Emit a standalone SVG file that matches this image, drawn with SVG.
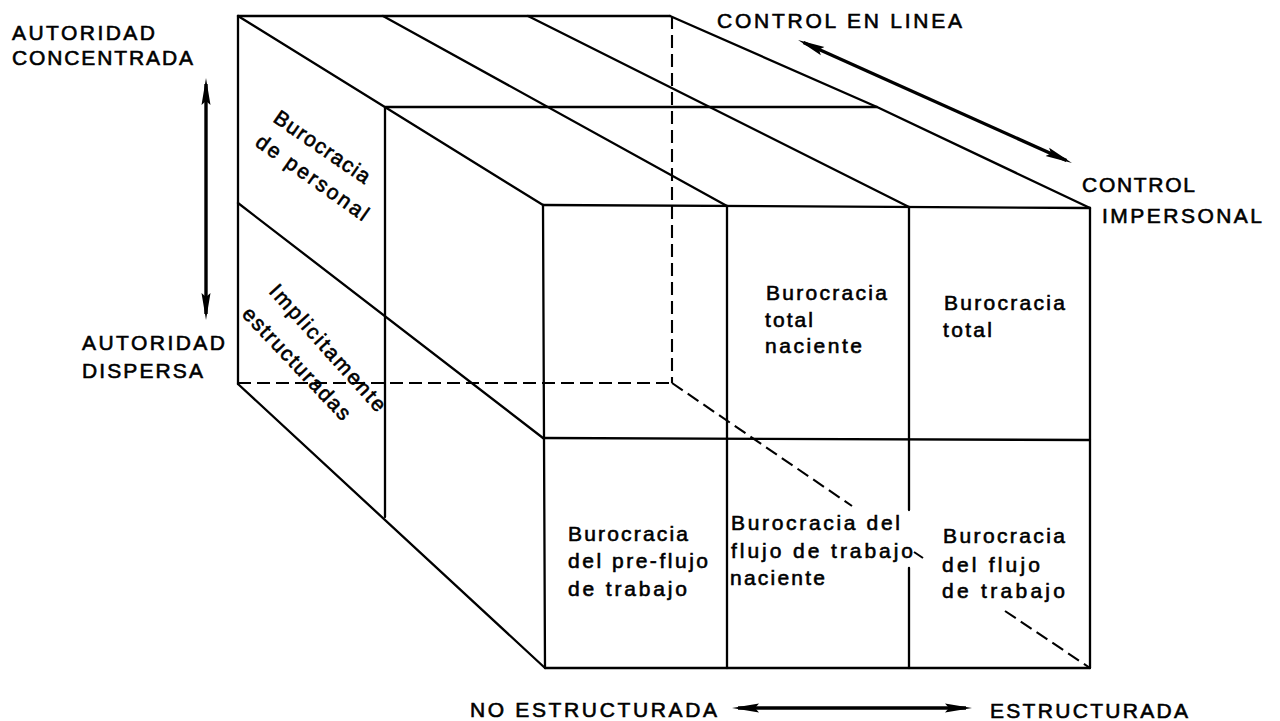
<svg xmlns="http://www.w3.org/2000/svg" width="1280" height="721" viewBox="0 0 1280 721">
<defs>
<style>
.e{fill:none;stroke:#000;stroke-width:2.3;stroke-linecap:round;stroke-linejoin:round}
.d{fill:none;stroke:#000;stroke-width:2.1;stroke-dasharray:13 6}
.a{fill:none;stroke:#000;stroke-width:3.4}
text{font-family:"Liberation Sans",Arial,sans-serif;font-size:21px;fill:#000;stroke:#000;stroke-width:0.6}
.t{font-size:21px}
</style>
<marker id="ah" markerUnits="userSpaceOnUse" markerWidth="30" markerHeight="12" refX="21" refY="5" orient="auto-start-reverse" viewBox="0 0 30 12">
<path d="M0,0.5 L27,5 L0,9.5 L4,5 Z" fill="#000"/>
</marker>
</defs>
<rect width="1280" height="721" fill="#fff"/>

<g id="connectors">
<g id="cube-edges">
<line class="e" x1="238" y1="16" x2="670" y2="16"/>
<line class="e" x1="238" y1="16" x2="238" y2="384"/>
<line class="e" x1="238" y1="16" x2="543" y2="205"/>
<line class="e" x1="383" y1="16" x2="727" y2="206"/>
<line class="e" x1="528" y1="16" x2="909" y2="207"/>
<polyline class="e" points="670,16 877,107 1090,208"/>
<line class="e" x1="386" y1="107" x2="877" y2="107"/>
<line class="e" x1="543" y1="205" x2="1090" y2="208"/>
<line class="e" x1="543" y1="205" x2="545" y2="668"/>
<line class="e" x1="1090" y1="208" x2="1090" y2="668"/>
<line class="e" x1="545" y1="668" x2="1090" y2="668"/>
<line class="e" x1="543" y1="438" x2="1090" y2="440"/>
<line class="e" x1="727" y1="206" x2="727" y2="668"/>
<line class="e" x1="909" y1="207" x2="909" y2="510"/>
<line class="e" x1="909" y1="568" x2="909" y2="668"/>
<line class="e" x1="238" y1="203" x2="543" y2="438"/>
<line class="e" x1="238" y1="384" x2="545" y2="668"/>
<line class="e" x1="385" y1="107" x2="385" y2="517"/>
</g>
<g id="hidden-edges">
<line class="d" x1="238" y1="383" x2="672" y2="383"/>
<line class="d" x1="672" y1="16" x2="672" y2="383"/>
<line class="d" x1="672" y1="383" x2="852" y2="506"/>
<line class="d" x1="914" y1="552" x2="923" y2="558" style="stroke-dasharray:none"/>
<line class="d" x1="1005" y1="611" x2="1090" y2="668"/>
</g>
<g id="axis-arrows">
<line class="a" x1="206" y1="84" x2="206" y2="314" marker-start="url(#ah)" marker-end="url(#ah)"/>
<line class="a" x1="803.5" y1="42.5" x2="1066.5" y2="160.5" marker-start="url(#ah)" marker-end="url(#ah)"/>
<line class="a" x1="738" y1="708" x2="966" y2="708" marker-start="url(#ah)" marker-end="url(#ah)"/>
</g>
</g>

<g id="label-autoridad-concentrada">
<text x="12" y="40" textLength="143" lengthAdjust="spacing">AUTORIDAD</text>
<text x="12" y="65" textLength="181" lengthAdjust="spacing">CONCENTRADA</text>
</g>
<g id="label-autoridad-dispersa">
<text x="82" y="350" textLength="143" lengthAdjust="spacing">AUTORIDAD</text>
<text x="82" y="378" textLength="121" lengthAdjust="spacing">DISPERSA</text>
</g>
<g id="label-control-en-linea">
<text x="717" y="28" textLength="245" lengthAdjust="spacing">CONTROL EN LINEA</text>
</g>
<g id="label-control-impersonal">
<text x="1082" y="192" textLength="113" lengthAdjust="spacing">CONTROL</text>
<text x="1102" y="223" textLength="160" lengthAdjust="spacing">IMPERSONAL</text>
</g>
<g id="label-no-estructurada">
<text x="470" y="717" textLength="247" lengthAdjust="spacing">NO ESTRUCTURADA</text>
</g>
<g id="label-estructurada">
<text x="990" y="718" textLength="198" lengthAdjust="spacing">ESTRUCTURADA</text>
</g>

<g id="node-burocracia-personal">
<text class="t" transform="translate(272,121) rotate(34.5)" textLength="112" lengthAdjust="spacing">Burocracia</text>
<text class="t" transform="translate(254,145) rotate(35.2)" textLength="133" lengthAdjust="spacing">de personal</text>
</g>
<g id="node-implicitamente-estructuradas">
<text class="t" transform="translate(268,292) rotate(48)" textLength="163" lengthAdjust="spacing">Implicitamente</text>
<text class="t" transform="translate(241,315) rotate(46.5)" textLength="147" lengthAdjust="spacing">estructuradas</text>
</g>
<g id="node-total-naciente">
<text x="766" y="300" textLength="121" lengthAdjust="spacing">Burocracia</text>
<text x="765" y="327" textLength="48" lengthAdjust="spacing">total</text>
<text x="765" y="353" textLength="97" lengthAdjust="spacing">naciente</text>
</g>
<g id="node-total">
<text x="944" y="310" textLength="121" lengthAdjust="spacing">Burocracia</text>
<text x="943" y="337" textLength="49" lengthAdjust="spacing">total</text>
</g>
<g id="node-pre-flujo">
<text x="568" y="541" textLength="120" lengthAdjust="spacing">Burocracia</text>
<text x="568" y="568" textLength="140" lengthAdjust="spacing">del pre-flujo</text>
<text x="568" y="596" textLength="119" lengthAdjust="spacing">de trabajo</text>
</g>
<g id="node-flujo-naciente">
<text x="731" y="530" textLength="169" lengthAdjust="spacing">Burocracia del</text>
<text x="731" y="558" textLength="182" lengthAdjust="spacing">flujo de trabajo</text>
<text x="730" y="585" textLength="95" lengthAdjust="spacing">naciente</text>
</g>
<g id="node-flujo">
<text x="943" y="543" textLength="122" lengthAdjust="spacing">Burocracia</text>
<text x="942" y="572" textLength="98" lengthAdjust="spacing">del flujo</text>
<text x="942" y="598" textLength="123" lengthAdjust="spacing">de trabajo</text>
</g>
</svg>
